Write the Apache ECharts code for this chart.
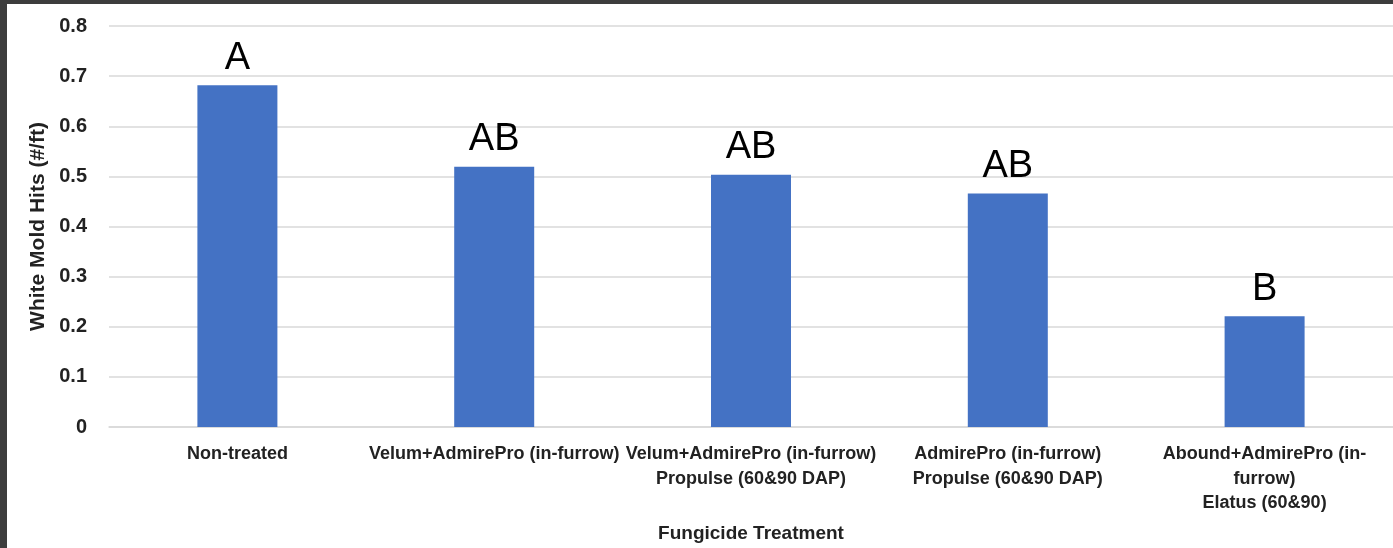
<!DOCTYPE html>
<html>
<head>
<meta charset="utf-8">
<script src="https://cdn.jsdelivr.net/npm/echarts@6/dist/echarts.min.js"></script>
<style>
html,body{margin:0;padding:0;background:#fff;}
#chart{width:1393px;height:548px;}
</style>
</head>
<body>
<div id="chart"></div>
<script>
const categories = [
  "Non-treated",
  "Velum+AdmirePro (in-furrow)",
  "Velum+AdmirePro (in-furrow)\nPropulse (60&90 DAP)",
  "AdmirePro (in-furrow)\nPropulse (60&90 DAP)",
  "Abound+AdmirePro (in-\nfurrow)\nElatus (60&90)"
];
const hits = [0.682, 0.519, 0.503, 0.466, 0.221];
const letters = ["A", "AB", "AB", "AB", "B"];
const yTicks = [0, 0.1, 0.2, 0.3, 0.4, 0.5, 0.6, 0.7, 0.8];

const chart = echarts.init(document.getElementById('chart'));
const font = '"Liberation Sans", Arial, sans-serif';
chart.setOption({
  animation: false,
  textStyle: { fontFamily: font },
  graphic: [
    { type: 'rect', left: 0, top: 0, shape: { width: 1393, height: 4 }, style: { fill: '#3d3d3d' }, silent: true },
    { type: 'rect', left: 0, top: 0, shape: { width: 7, height: 548 }, style: { fill: '#3d3d3d' }, silent: true }
  ],
  grid: { left: 109, right: -1, top: 26, bottom: 119, containLabel: false },
  xAxis: {
    type: 'category',
    data: categories,
    name: 'Fungicide Treatment',
    nameLocation: 'middle',
    nameGap: 97,
    nameTextStyle: { fontSize: 19, fontWeight: 'bold', color: '#222', fontFamily: font },
    axisLine: { show: true, lineStyle: { color: '#d9d9d9', width: 1.5 } },
    axisTick: { show: false },
    axisLabel: {
      interval: 0, margin: 15, fontSize: 18, fontWeight: 'bold', color: '#222',
      lineHeight: 24.5, align: 'center', fontFamily: font, overflow: 'none'
    }
  },
  yAxis: {
    type: 'value',
    min: yTicks[0], max: yTicks[yTicks.length - 1], interval: 0.1,
    name: 'White Mold Hits (#/ft)',
    nameLocation: 'middle',
    nameGap: 56,
    nameRotate: 90,
    nameTextStyle: { fontSize: 21, fontWeight: 'bold', color: '#222', fontFamily: font },
    axisLine: { show: false },
    axisTick: { show: false },
    splitLine: { lineStyle: { color: '#d9d9d9', width: 1.5 } },
    axisLabel: {
      margin: 22, fontSize: 20, fontWeight: 'bold', color: '#222', fontFamily: font,
      formatter: v => (Math.round(v * 10) / 10).toString()
    }
  },
  series: [{
    type: 'bar',
    data: hits,
    barWidth: 80,
    itemStyle: { color: '#4472C4' },
    label: {
      show: true, position: 'top', distance: 8,
      formatter: p => letters[p.dataIndex],
      fontSize: 38, color: '#000', fontFamily: font
    }
  }]
});
</script>
</body>
</html>
